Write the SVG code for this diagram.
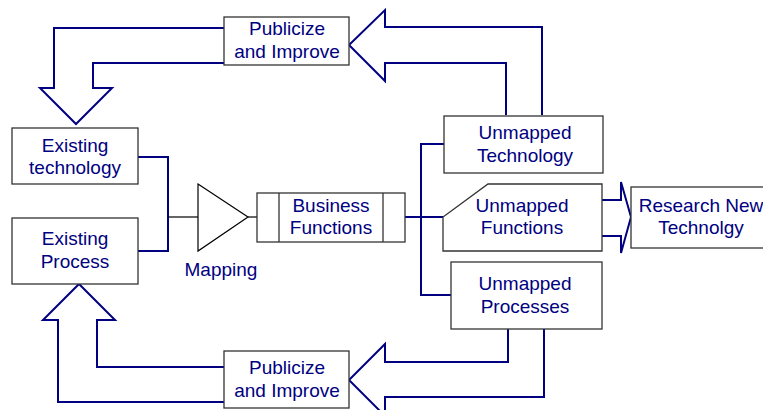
<svg xmlns="http://www.w3.org/2000/svg" width="763" height="410" viewBox="0 0 763 410">
<style>
.bx{fill:#fff;stroke:#333;stroke-width:1.3}
.ln{fill:none;stroke:#000080;stroke-width:2}
.bl{fill:none;stroke:#000;stroke-width:1.2}
text{font-family:"Liberation Sans",Arial,sans-serif;font-size:19px;fill:#000080;text-anchor:middle}
</style>
<rect width="763" height="410" fill="#fff"/>
<g id="connectors">
<polyline class="ln" points="224,28 54,28 54,88 40,88 76,124 112,88 93,88 93,63 224,63"/>
<polyline class="ln" points="542,115 542,27 385,27 385,10 349,45 385,81 385,63 506,63 506,115"/>
<polyline class="ln" points="508,329 508,362 385,362 385,344 349,380 385,416 385,397 544,397 544,329"/>
<polyline class="ln" points="224,367 97,367 97,320 115,320 79,284 43,320 58,320 58,402 224,402"/>
<polyline class="ln" points="138,157 168,157 168,251 138,251"/>
<line class="bl" x1="168" y1="217" x2="198" y2="217"/>
<line class="bl" x1="248" y1="217" x2="257" y2="217"/>
<line class="ln" x1="385" y1="217" x2="443" y2="217"/>
<polyline class="ln" points="444,144 421,144 421,295 451,295"/>
<polyline class="ln" points="602,200 621,200 621,182 631,217 621,253 621,236 602,236"/>
</g>
<g id="publicize-top">
<rect class="bx" x="224" y="17" width="125" height="48"/>
<text x="287" y="35">Publicize</text>
<text x="287" y="58">and Improve</text>
</g>
<g id="existing-technology">
<rect class="bx" x="12" y="128" width="126" height="56"/>
<text x="75" y="152">Existing</text>
<text x="75" y="174">technology</text>
</g>
<g id="existing-process">
<rect class="bx" x="12" y="218" width="126" height="66"/>
<text x="75" y="245">Existing</text>
<text x="75" y="268">Process</text>
</g>
<g id="mapping">
<polygon class="bl" points="198,184 248,217 198,251" fill="#fff"/>
<text x="221" y="276">Mapping</text>
</g>
<g id="business-functions">
<rect class="bx" x="257" y="193" width="148" height="49"/>
<line class="bx" x1="279" y1="193" x2="279" y2="242"/>
<line class="bx" x1="383" y1="193" x2="383" y2="242"/>
<text x="331" y="212">Business</text>
<text x="331" y="234">Functions</text>
</g>
<g id="unmapped-technology">
<rect class="bx" x="444" y="116" width="159" height="57"/>
<text x="525" y="139">Unmapped</text>
<text x="525" y="162">Technology</text>
</g>
<g id="unmapped-functions">
<polygon class="bx" points="488,184 602,184 602,251 443,251 443,217"/>
<text x="522" y="212">Unmapped</text>
<text x="522" y="234">Functions</text>
</g>
<g id="research-new-technology">
<rect class="bx" x="631" y="187" width="140" height="61"/>
<text x="701" y="212">Research New</text>
<text x="701" y="234">Technolgy</text>
</g>
<g id="unmapped-processes">
<rect class="bx" x="451" y="262" width="151" height="67"/>
<text x="525" y="290">Unmapped</text>
<text x="525" y="313">Processes</text>
</g>
<g id="publicize-bottom">
<rect class="bx" x="224" y="351" width="125" height="57"/>
<text x="287" y="374">Publicize</text>
<text x="287" y="397">and Improve</text>
</g>
</svg>
